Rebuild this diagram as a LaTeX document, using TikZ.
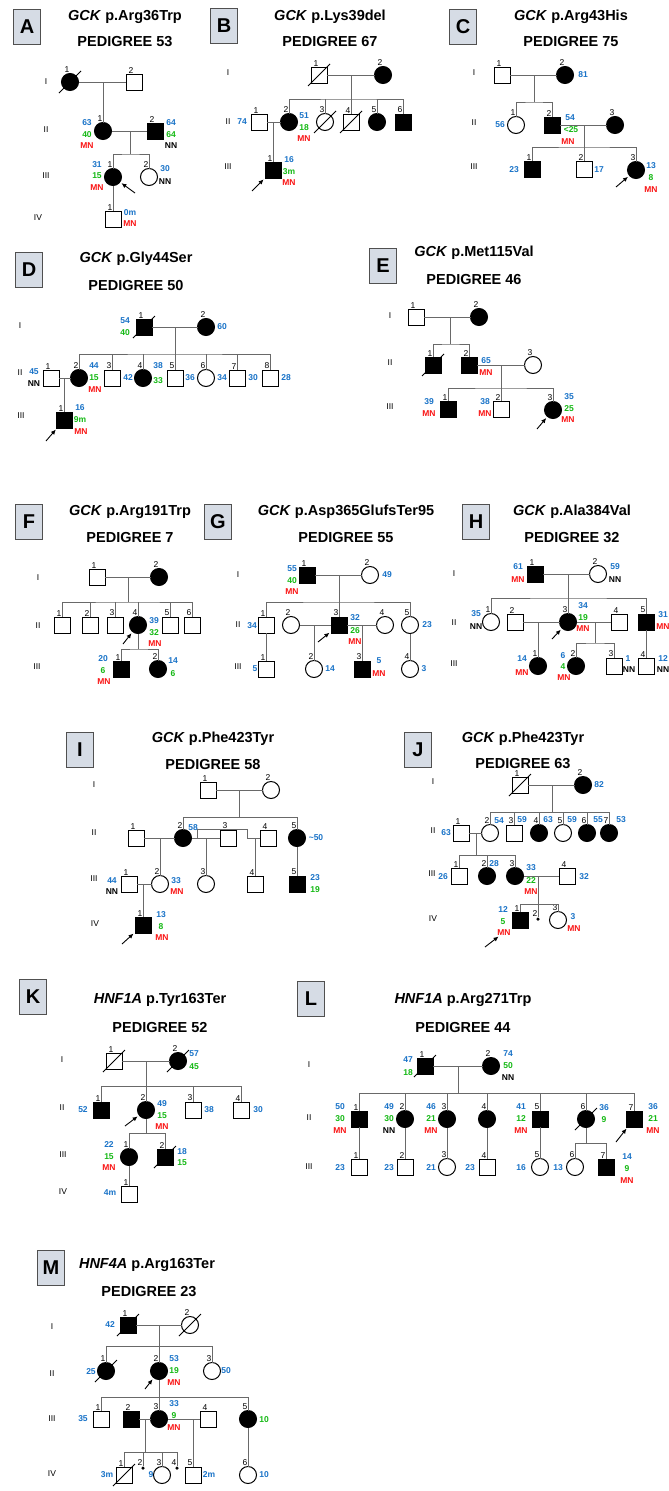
\documentclass[tikz,border=0pt]{standalone}
\usepackage{fontspec}
\setmainfont{Liberation Sans}
\usetikzlibrary{calc,arrows.meta}
\definecolor{lblue}{RGB}{25,115,200}
\definecolor{lgreen}{RGB}{20,185,20}
\definecolor{lred}{RGB}{250,20,20}
\definecolor{linecol}{RGB}{105,105,105}
\definecolor{boxfill}{RGB}{214,220,229}
\definecolor{boxline}{RGB}{80,80,80}
\newcommand{\dcsd}[1]{\draw[decd] ($(#1)+(-11,11)$) -- ($(#1)+(11,-11)$);}

\begin{document}
\begin{tikzpicture}[x=1pt, y=-1pt]
\tikzset{ >=latex,
  ln/.style={draw=linecol, line width=0.9pt},
  sym/.style={draw=black, line width=1pt, inner sep=0pt, outer sep=0pt, fill=white},
  ma/.style={sym, rectangle, minimum size=16pt},
  fe/.style={sym, circle, minimum size=17pt},
  af/.style={fill=black},
  sdot/.style={circle, fill=black, inner sep=0pt, minimum size=3.5pt},
  decd/.style={draw=black, line width=0.8pt},
  numlab/.style={font=\fontsize{8.5}{9}\selectfont, inner sep=0.8pt, xshift=-3pt},
  nm/.style={label distance=1pt, label={[numlab]above:#1}},
  lab/.style={font=\bfseries\fontsize{8.5}{9}\selectfont, inner sep=0pt},
  bl/.style={lab, text=lblue},
  gr/.style={lab, text=lgreen},
  rd/.style={lab, text=lred},
  bk/.style={lab, text=black},
  gen/.style={font=\fontsize{8.5}{9}\selectfont, inner sep=0pt},
  ttl/.style={font=\bfseries\fontsize{14.5}{16}\selectfont, inner sep=0pt},
  panel/.style={draw=boxline, fill=boxfill, line width=0.9pt, minimum width=27pt,
    minimum height=35pt, inner sep=0pt, font=\bfseries\fontsize{20}{22}\selectfont},
  arr/.style={-{Latex[length=5pt,width=4.5pt]}, line width=0.9pt, shorten >=2pt},
}
\useasboundingbox (0,0) rectangle (669,1491);
\fill[white] (0,0) rectangle (669,1491);

%\draw [lightgray, dashed](0,0) grid[step=50] (669,1491);

% ---------------- A
\node[panel] (pA) at (27,27) {A};
\node[ttl] (tA1) at (125,17) {\textit{GCK} p.Arg36Trp};
\node[ttl] (tA2) at (125,42) {PEDIGREE 53};
\node[gen] (gA1) at (46,82) {I};
\node[gen] (gA2) at (46,130) {II};
\node[gen] (gA3) at (46,176) {III};
\node[gen] (gA4) at (38,218) {IV};

\node[fe,af,nm=1] (aI1) at (70,82) {};
\node[ma,nm=2] (aI2) at (134,82) {};
\node[fe,af,nm=1] (aII1) at (103,131) {};
\node[ma,af,nm=2] (aII2) at (155,131) {};
\node[fe,af,nm=1] (aIII1) at (113,177) {};
\node[fe,nm=2] (aIII2) at (149,177) {};
\node[ma,nm=1] (aIV1) at (113,219) {};
\dcsd{aI1}

\coordinate (aM1) at (103,82);
\coordinate (aM2) at (130,131);
\coordinate (aS2) at (130,154);
\coordinate (aP) at (135,193);
\draw[ln] (aI1) -- (aI2);
\draw[ln] (aM1) -- (aII1);
\draw[ln] (aII1) -- (aII2);
\draw[ln] (aM2) -- (aS2);
\draw[ln] (aIII1) |- (aS2) -| (aIII2);
\draw[ln] (aIII1) -- (aIV1);
\draw[arr] (aP) -- (aIII1);

\node[bl] (a1) at (87,123) {63};
\node[gr] (a2) at (87,135) {40};
\node[rd] (a3) at (87,146) {MN};
\node[bl] (a4) at (171,123) {64};
\node[gr] (a5) at (171,135) {64};
\node[bk] (a6) at (171,146) {NN};
\node[bl] (a7) at (97,165) {31};
\node[gr] (a8) at (97,176) {15};
\node[rd] (a9) at (97,188) {MN};
\node[bl] (a10) at (165,169) {30};
\node[bk] (a11) at (165,182) {NN};
\node[bl] (a12) at (130,213) {0m};
\node[rd] (a13) at (130,224) {MN};

% ---------------- B
\node[panel] (pB) at (224,26) {B};
\node[ttl] (tB1) at (330,17) {\textit{GCK} p.Lys39del};
\node[ttl] (tB2) at (330,42) {PEDIGREE 67};
\node[gen] (gB1) at (228,73) {I};
\node[gen] (gB2) at (228,122) {II};
\node[gen] (gB3) at (228,167) {III};

\node[ma,nm=1] (bI1) at (319,75) {};
\node[fe,af,nm=2] (bI2) at (383,75) {};
\node[ma,nm=1] (bII1) at (259,122) {};
\node[fe,af,nm=2] (bII2) at (289,122) {};
\node[fe,nm=3] (bII3) at (325,122) {};
\node[ma,nm=4] (bII4) at (351,122) {};
\node[fe,af,nm=5] (bII5) at (377,122) {};
\node[ma,af,nm=6] (bII6) at (403,122) {};
\node[ma,af,nm=1] (bIII1) at (273,170) {};
\dcsd{bI1} \dcsd{bII3} \dcsd{bII4}

\coordinate (bM1) at (351,75);
\coordinate (bS1) at (351,99);
\coordinate (bM2) at (273,122);
\coordinate (bP) at (252,191);
\draw[ln] (bI1) -- (bI2);
\draw[ln] (bM1) -- (bII4);
\draw[ln] (bII2) |- (bS1) -| (bII6);
\foreach \c in {bII3,bII5} \draw[ln] (\c) -- (\c |- bS1);
\draw[ln] (bII1) -- (bII2);
\draw[ln] (bM2) -- (bIII1);
\draw[arr] (bP) -- (bIII1);

\node[bl] (b1) at (242,122) {74};
\node[bl] (b2) at (304,116) {51};
\node[gr] (b3) at (304,128) {18};
\node[rd] (b4) at (304,139) {MN};
\node[bl] (b5) at (289,160) {16};
\node[gr] (b6) at (289,172) {3m};
\node[rd] (b7) at (289,183) {MN};

% ---------------- C
\node[panel] (pC) at (463,27) {C};
\node[ttl] (tC1) at (571,17) {\textit{GCK} p.Arg43His};
\node[ttl] (tC2) at (571,42) {PEDIGREE 75};
\node[gen] (gC1) at (474,73) {I};
\node[gen] (gC2) at (474,123) {II};
\node[gen] (gC3) at (474,167) {III};

\node[ma,nm=1] (cI1) at (502,75) {};
\node[fe,af,nm=2] (cI2) at (565,75) {};
\node[fe,nm=1] (cII1) at (516,125) {};
\node[ma,af,nm=2] (cII2) at (552,125) {};
\node[fe,af,nm=3] (cII3) at (615,125) {};
\node[ma,af,nm=1] (cIII1) at (532,169) {};
\node[ma,nm=2] (cIII2) at (584,169) {};
\node[fe,af,nm=3] (cIII3) at (636,170) {};

\coordinate (cM1) at (534,75);
\coordinate (cS1) at (534,102);
\coordinate (cM2) at (584,125);
\coordinate (cS2) at (584,147);
\coordinate (cP) at (616,187);
\draw[ln] (cI1) -- (cI2);
\draw[ln] (cM1) -- (cS1);
\draw[ln] (cII1) |- (cS1) -| (cII2);
\draw[ln] (cII2) -- (cII3);
\draw[ln] (cM2) -- (cIII2);
\draw[ln] (cIII1) |- (cS2) -| (cIII3);
\draw[arr] (cP) -- (cIII3);

\node[bl] (c1) at (583,75) {81};
\node[bl] (c2) at (500,125) {56};
\node[bl] (c3) at (570,118) {54};
\node[gr] (c4) at (571,130) {<25};
\node[rd] (c5) at (568,142) {MN};
\node[bl] (c6) at (514,170) {23};
\node[bl] (c7) at (599,170) {17};
\node[bl] (c8) at (651,166) {13};
\node[gr] (c9) at (651,178) {8};
\node[rd] (c10) at (651,190) {MN};

% ---------------- D
\node[panel] (pD) at (29,270) {D};
\node[ttl] (tD1) at (136,259) {\textit{GCK} p.Gly44Ser};
\node[ttl] (tD2) at (136,286) {PEDIGREE 50};
\node[gen] (gD1) at (20,326) {I};
\node[gen] (gD2) at (20,373) {II};
\node[gen] (gD3) at (21,416) {III};

\node[ma,af,nm=1] (dI1) at (144,327) {};
\node[fe,af,nm=2] (dI2) at (206,327) {};
\node[ma,nm=1] (dII1) at (51,378) {};
\node[fe,af,nm=2] (dII2) at (79,378) {};
\node[ma,nm=3] (dII3) at (112,378) {};
\node[fe,af,nm=4] (dII4) at (143,378) {};
\node[ma,nm=5] (dII5) at (175,378) {};
\node[fe,nm=6] (dII6) at (206,378) {};
\node[ma,nm=7] (dII7) at (237,378) {};
\node[ma,nm=8] (dII8) at (270,378) {};
\node[ma,af,nm=1] (dIII1) at (64,420) {};
\dcsd{dI1}

\coordinate (dM1) at (175,327);
\coordinate (dS1) at (175,354);
\coordinate (dM2) at (64,378);
\coordinate (dP) at (46,441);
\draw[ln] (dI1) -- (dI2);
\draw[ln] (dM1) -- (dII5);
\draw[ln] (dII2) |- (dS1) -| (dII8);
\foreach \c in {dII3,dII4,dII6,dII7} \draw[ln] (\c) -- (\c |- dS1);
\draw[ln] (dII1) -- (dII2);
\draw[ln] (dM2) -- (dIII1);
\draw[arr] (dP) -- (dIII1);

\node[bl] (d1) at (125,321) {54};
\node[gr] (d2) at (125,333) {40};
\node[bl] (d3) at (222,327) {60};
\node[bl] (d4) at (34,372) {45};
\node[bk] (d5) at (34,384) {NN};
\node[bl] (d6) at (94,366) {44};
\node[gr] (d7) at (94,378) {15};
\node[rd] (d8) at (95,390) {MN};
\node[bl] (d9) at (128,378) {42};
\node[bl] (d10) at (158,366) {38};
\node[gr] (d11) at (158,381) {33};
\node[bl] (d12) at (190,378) {36};
\node[bl] (d13) at (222,378) {34};
\node[bl] (d14) at (253,378) {30};
\node[bl] (d15) at (286,378) {28};
\node[bl] (d16) at (80,408) {16};
\node[gr] (d17) at (80,420) {9m};
\node[rd] (d18) at (81,432) {MN};

% ---------------- E
\node[panel] (pE) at (383,266) {E};
\node[ttl] (tE1) at (474,253) {\textit{GCK} p.Met115Val};
\node[ttl] (tE2) at (474,280) {PEDIGREE 46};
\node[gen] (gE1) at (390,316) {I};
\node[gen] (gE2) at (390,363) {II};
\node[gen] (gE3) at (390,407) {III};

\node[ma,nm=1] (eI1) at (416,317) {};
\node[fe,af,nm=2] (eI2) at (479,317) {};
\node[ma,af,nm=1] (eII1) at (433,365) {};
\node[ma,af,nm=2] (eII2) at (469,365) {};
\node[fe,nm=3] (eII3) at (533,365) {};
\node[ma,af,nm=1] (eIII1) at (448,409) {};
\node[ma,nm=2] (eIII2) at (501,409) {};
\node[fe,af,nm=3] (eIII3) at (553,410) {};
\dcsd{eII1}

\coordinate (eM1) at (450,317);
\coordinate (eS1) at (450,344);
\coordinate (eM2) at (501,365);
\coordinate (eS2) at (501,388);
\coordinate (eP) at (537,429);
\draw[ln] (eI1) -- (eI2);
\draw[ln] (eM1) -- (eS1);
\draw[ln] (eII1) |- (eS1) -| (eII2);
\draw[ln] (eII2) -- (eII3);
\draw[ln] (eM2) -- (eIII2);
\draw[ln] (eIII1) |- (eS2) -| (eIII3);
\draw[arr] (eP) -- (eIII3);

\node[bl] (e1) at (486,361) {65};
\node[rd] (e2) at (486,373) {MN};
\node[bl] (e3) at (429,402) {39};
\node[rd] (e4) at (429,414) {MN};
\node[bl] (e5) at (485,402) {38};
\node[rd] (e6) at (485,414) {MN};
\node[bl] (e7) at (569,397) {35};
\node[gr] (e8) at (569,409) {25};
\node[rd] (e9) at (568,420) {MN};

% ---------------- F
\node[panel] (pF) at (29,522) {F};
\node[ttl] (tF1) at (130,512) {\textit{GCK} p.Arg191Trp};
\node[ttl] (tF2) at (130,538) {PEDIGREE 7};
\node[gen] (gF1) at (38,578) {I};
\node[gen] (gF2) at (38,626) {II};
\node[gen] (gF3) at (37,667) {III};

\node[ma,nm=1] (fI1) at (97,577) {};
\node[fe,af,nm=2] (fI2) at (159,577) {};
\node[ma,nm=1] (fII1) at (62,625) {};
\node[ma,nm=2] (fII2) at (90,625) {};
\node[ma,nm=3] (fII3) at (115,625) {};
\node[fe,af,nm=4] (fII4) at (138,625) {};
\node[ma,nm=5] (fII5) at (170,625) {};
\node[ma,nm=6] (fII6) at (192,625) {};
\node[ma,af,nm=1] (fIII1) at (121,669) {};
\node[fe,af,nm=2] (fIII2) at (158,669) {};

\coordinate (fM1) at (128,577);
\coordinate (fS1) at (128,602);
\coordinate (fS2) at (138,649);
\coordinate (fP) at (123,644);
\draw[ln] (fI1) -- (fI2);
\draw[ln] (fM1) -- (fS1);
\draw[ln] (fII1) |- (fS1) -| (fII6);
\foreach \c in {fII2,fII3,fII4,fII5} \draw[ln] (\c) -- (\c |- fS1);
\draw[ln] (fII4) -- (fS2);
\draw[ln] (fIII1) |- (fS2) -| (fIII2);
\draw[arr] (fP) -- (fII4);

\node[bl] (f1) at (154,621) {39};
\node[gr] (f2) at (154,633) {32};
\node[rd] (f3) at (155,644) {MN};
\node[bl] (f4) at (103,659) {20};
\node[gr] (f5) at (103,671) {6};
\node[rd] (f6) at (104,682) {MN};
\node[bl] (f7) at (173,661) {14};
\node[gr] (f8) at (173,674) {6};

% ---------------- G
\node[panel] (pG) at (218,522) {G};
\node[ttl] (tG1) at (346,512) {\textit{GCK} p.Asp365GlufsTer95};
\node[ttl] (tG2) at (346,538) {PEDIGREE 55};
\node[gen] (gG1) at (238,575) {I};
\node[gen] (gG2) at (238,625) {II};
\node[gen] (gG3) at (238,667) {III};

\node[ma,af,nm=1] (gI1) at (307,575) {};
\node[fe,nm=2] (gI2) at (370,575) {};
\node[ma,nm=1] (gII1) at (266,625) {};
\node[fe,nm=2] (gII2) at (291,625) {};
\node[ma,af,nm=3] (gII3) at (339,625) {};
\node[fe,nm=4] (gII4) at (385,625) {};
\node[fe,nm=5] (gII5) at (410,625) {};
\node[ma,nm=1] (gIII1) at (266,669) {};
\node[fe,nm=2] (gIII2) at (314,669) {};
\node[ma,af,nm=3] (gIII3) at (362,669) {};
\node[fe,nm=4] (gIII4) at (410,669) {};

\coordinate (gM1) at (339,575);
\coordinate (gS1) at (339,602);
\coordinate (gM2) at (314,625);
\coordinate (gM3) at (362,625);
\coordinate (gP) at (318,642);
\draw[ln] (gI1) -- (gI2);
\draw[ln] (gM1) -- (gII3);
\draw[ln] (gII1) |- (gS1) -| (gII5);
\draw[ln] (gII2) -- (gII3);
\draw[ln] (gII3) -- (gII4);
\draw[ln] (gM2) -- (gIII2);
\draw[ln] (gM3) -- (gIII3);
\draw[ln] (gII1) -- (gIII1);
\draw[ln] (gII5) -- (gIII4);
\draw[arr] (gP) -- (gII3);

\node[bl] (g1) at (292,569) {55};
\node[gr] (g2) at (292,581) {40};
\node[rd] (g3) at (292,592) {MN};
\node[bl] (g4) at (387,575) {49};
\node[bl] (g5) at (252,626) {34};
\node[bl] (g6) at (355,618) {32};
\node[gr] (g7) at (355,631) {26};
\node[rd] (g8) at (355,642) {MN};
\node[bl] (g9) at (427,625) {23};
\node[bl] (g10) at (255,669) {5};
\node[bl] (g11) at (330,669) {14};
\node[bl] (g12) at (379,661) {5};
\node[rd] (g13) at (379,674) {MN};
\node[bl] (g14) at (424,669) {3};

% ---------------- H
\node[panel] (pH) at (476,522) {H};
\node[ttl] (tH1) at (572,512) {\textit{GCK} p.Ala384Val};
\node[ttl] (tH2) at (572,538) {PEDIGREE 32};
\node[gen] (gH1) at (454,574) {I};
\node[gen] (gH2) at (454,623) {II};
\node[gen] (gH3) at (454,664) {III};

\node[ma,af,nm=1] (hI1) at (535,574) {};
\node[fe,nm=2] (hI2) at (598,574) {};
\node[fe,nm=1] (hII1) at (491,622) {};
\node[ma,nm=2] (hII2) at (515,622) {};
\node[fe,af,nm=3] (hII3) at (568,622) {};
\node[ma,nm=4] (hII4) at (619,622) {};
\node[ma,af,nm=5] (hII5) at (646,622) {};
\node[fe,af,nm=1] (hIII1) at (538,666) {};
\node[fe,af,nm=2] (hIII2) at (576,666) {};
\node[ma,nm=3] (hIII3) at (614,666) {};
\node[ma,nm=4] (hIII4) at (646,666) {};

\coordinate (hM1) at (568,574);
\coordinate (hS1) at (568,598);
\coordinate (hM2) at (538,622);
\coordinate (hM3) at (595,622);
\coordinate (hS3) at (595,643);
\coordinate (hP) at (552,639);
\draw[ln] (hI1) -- (hI2);
\draw[ln] (hM1) -- (hII3);
\draw[ln] (hII1) |- (hS1) -| (hII5);
\draw[ln] (hII2) -- (hII3);
\draw[ln] (hII3) -- (hII4);
\draw[ln] (hM2) -- (hIII1);
\draw[ln] (hM3) -- (hS3);
\draw[ln] (hIII2) |- (hS3) -| (hIII3);
\draw[ln] (hII5) -- (hIII4);
\draw[arr] (hP) -- (hII3);

\node[bl] (h1) at (518,567) {61};
\node[rd] (h2) at (518,580) {MN};
\node[bl] (h3) at (615,567) {59};
\node[bk] (h4) at (615,580) {NN};
\node[bl] (h5) at (476,614) {35};
\node[bk] (h6) at (476,627) {NN};
\node[bl] (h7) at (583,606) {34};
\node[gr] (h8) at (583,618) {19};
\node[rd] (h9) at (583,629) {MN};
\node[bl] (h10) at (663,615) {31};
\node[rd] (h11) at (663,627) {MN};
\node[bl] (h12) at (522,659) {14};
\node[rd] (h13) at (522,673) {MN};
\node[bl] (h14) at (563,656) {6};
\node[gr] (h15) at (563,667) {4};
\node[rd] (h16) at (564,678) {MN};
\node[bl] (h17) at (628,659) {1};
\node[bk] (h18) at (629,670) {NN};
\node[bl] (h19) at (663,659) {12};
\node[bk] (h20) at (663,670) {NN};

% ---------------- I
\node[panel] (pI) at (80,750) {I};
\node[ttl] (tI1) at (213,739) {\textit{GCK} p.Phe423Tyr};
\node[ttl] (tI2) at (213,764) {PEDIGREE 58};
\node[gen] (gI1) at (94,785) {I};
\node[gen] (gI2) at (94,833) {II};
\node[gen] (gI3) at (94,879) {III};
\node[gen] (gI4) at (95,924) {IV};

\node[ma,nm=1] (iI1) at (208,790) {};
\node[fe,nm=2] (iI2) at (271,790) {};
\node[ma,nm=1] (iII1) at (136,838) {};
\node[fe,af,nm=2] (iII2) at (183,838) {};
\node[ma,nm=3] (iII3) at (228,838) {};
\node[ma,nm=4] (iII4) at (268,838) {};
\node[fe,af,nm=5] (iII5) at (297,838) {};
\node[ma,nm=1] (iIII1) at (129,884) {};
\node[fe,nm=2] (iIII2) at (160,884) {};
\node[fe,nm=3] (iIII3) at (206,884) {};
\node[ma,nm=4] (iIII4) at (255,884) {};
\node[ma,af,nm=5] (iIII5) at (297,884) {};
\node[ma,af,nm=1] (iIV1) at (143,925) {};

\coordinate (iM1) at (239,790);
\coordinate (iS1) at (239,817);
\coordinate (iM2) at (160,838);
\coordinate (iM3) at (206,838);
\coordinate (iB0) at (197,838);
\coordinate (iB1) at (247,829);
\coordinate (iM4) at (255,838);
\coordinate (iM5) at (143,884);
\coordinate (iP) at (122,944);
\draw[ln] (iI1) -- (iI2);
\draw[ln] (iM1) -- (iS1);
\draw[ln] (iII2) |- (iS1) -| (iII5);
\draw[ln] (iII1) -- (iII2);
\draw[ln] (iII2) -- (iII3);
\draw[ln] (iB0) |- (iB1) |- (iII4);
\draw[ln] (iM2) -- (iIII2);
\draw[ln] (iM3) -- (iIII3);
\draw[ln] (iM4) -- (iIII4);
\draw[ln] (iII5) -- (iIII5);
\draw[ln] (iIII1) -- (iIII2);
\draw[ln] (iM5) -- (iIV1);
\draw[arr] (iP) -- (iIV1);

\node[bl] (i1) at (193,828) {58};
\node[bl] (i2) at (316,838) {\textasciitilde50};
\node[bl] (i3) at (112,881) {44};
\node[bk] (i4) at (112,892) {NN};
\node[bl] (i5) at (176,881) {33};
\node[rd] (i6) at (177,892) {MN};
\node[bl] (i7) at (315,878) {23};
\node[gr] (i8) at (315,890) {19};
\node[bl] (i9) at (161,915) {13};
\node[gr] (i10) at (161,927) {8};
\node[rd] (i11) at (162,938) {MN};

% ---------------- J
\node[panel] (pJ) at (418,750) {J};
\node[ttl] (tJ1) at (523,739) {\textit{GCK} p.Phe423Tyr};
\node[ttl] (tJ2) at (523,764) {PEDIGREE 63};
\node[gen] (gJ1) at (433,782) {I};
\node[gen] (gJ2) at (433,831) {II};
\node[gen] (gJ3) at (432,874) {III};
\node[gen] (gJ4) at (433,919) {IV};

\node[ma,nm=1] (jI1) at (520,785) {};
\node[fe,af,nm=2] (jI2) at (583,785) {};
\node[ma,nm=1] (jII1) at (461,833) {};
\node[fe,nm=2] (jII2) at (490,833) {};
\node[ma,nm=3] (jII3) at (514,833) {};
\node[fe,af,nm=4] (jII4) at (539,833) {};
\node[fe,nm=5] (jII5) at (563,833) {};
\node[fe,af,nm=6] (jII6) at (587,833) {};
\node[fe,af,nm=7] (jII7) at (609,833) {};
\node[ma,nm=1] (jIII1) at (459,876) {};
\node[fe,af,nm=2] (jIII2) at (487,876) {};
\node[fe,af,nm=3] (jIII3) at (515,876) {};
\node[ma,nm=4] (jIII4) at (567,876) {};
\node[ma,af,nm=1] (jIV1) at (520,920) {};
\node[sdot,nm=2] (jIV2) at (538,919) {};
\node[fe,nm=3] (jIV3) at (558,920) {};
\dcsd{jI1}

\coordinate (jM1) at (552,785);
\coordinate (jS1) at (552,812);
\coordinate (jM2) at (476,833);
\coordinate (jS2) at (476,855);
\coordinate (jM3) at (538,876);
\coordinate (jS3) at (538,904);
\coordinate (jP) at (485,947);
\draw[ln] (jI1) -- (jI2);
\draw[ln] (jM1) -- (jS1);
\draw[ln] (jII2) |- (jS1) -| (jII7);
\foreach \c in {jII3,jII4,jII5,jII6} \draw[ln] (\c) -- (\c |- jS1);
\draw[ln] (jII1) -- (jII2);
\draw[ln] (jM2) -- (jS2);
\draw[ln] (jIII1) |- (jS2) -| (jIII3);
\draw[ln] (jIII2) -- (jIII2 |- jS2);
\draw[ln] (jIII3) -- (jIII4);
\draw[ln] (jM3) -- (jS3);
\draw[ln] (jIV1) |- (jS3) -| (jIV3);
\draw[ln] (jS3) -- (jIV2);
\draw[arr, shorten >=17pt] (jP) -- (jIV1);

\node[bl] (j1) at (599,785) {82};
\node[bl] (j2) at (446,833) {63};
\node[bl] (j3) at (499,821) {54};
\node[bl] (j4) at (522,820) {59};
\node[bl] (j5) at (548,820) {63};
\node[bl] (j6) at (572,820) {59};
\node[bl] (j7) at (598,820) {55};
\node[bl] (j8) at (621,820) {53};
\node[bl] (j9) at (443,877) {26};
\node[bl] (j10) at (494,864) {28};
\node[bl] (j11) at (531,868) {33};
\node[gr] (j12) at (531,881) {22};
\node[rd] (j13) at (531,892) {MN};
\node[bl] (j14) at (584,877) {32};
\node[bl] (j15) at (503,910) {12};
\node[gr] (j16) at (503,922) {5};
\node[rd] (j17) at (504,933) {MN};
\node[bl] (j18) at (573,917) {3};
\node[rd] (j19) at (574,929) {MN};

% ---------------- K
\node[panel] (pK) at (33,997) {K};
\node[ttl] (tK1) at (160,1000) {\textit{HNF1A} p.Tyr163Ter};
\node[ttl] (tK2) at (160,1027) {PEDIGREE 52};
\node[gen] (gK1) at (62,1060) {I};
\node[gen] (gK2) at (62,1108) {II};
\node[gen] (gK3) at (63,1155) {III};
\node[gen] (gK4) at (63,1192) {IV};

\node[ma,nm=1] (kI1) at (114,1061) {};
\node[fe,af,nm=2] (kI2) at (178,1061) {};
\node[ma,af,nm=1] (kII1) at (101,1110) {};
\node[fe,af,nm=2] (kII2) at (146,1110) {};
\node[ma,nm=3] (kII3) at (193,1110) {};
\node[ma,nm=4] (kII4) at (241,1110) {};
\node[fe,af,nm=1] (kIII1) at (129,1157) {};
\node[ma,af,nm=2] (kIII2) at (165,1157) {};
\node[ma,nm=1] (kIV1) at (129,1194) {};
\dcsd{kI1} \dcsd{kI2} \dcsd{kIII2}

\coordinate (kM1) at (146,1061);
\coordinate (kS1) at (146,1086);
\coordinate (kS2) at (146,1133);
\coordinate (kP) at (125,1126);
\draw[ln] (kI1) -- (kI2);
\draw[ln] (kM1) -- (kII2);
\draw[ln] (kII1) |- (kS1) -| (kII4);
\draw[ln] (kII3) -- (kII3 |- kS1);
\draw[ln] (kII2) -- (kS2);
\draw[ln] (kIII1) |- (kS2) -| (kIII2);
\draw[ln] (kIII1) -- (kIV1);
\draw[arr] (kP) -- (kII2);

\node[bl] (k1) at (194,1054) {57};
\node[gr] (k2) at (194,1067) {45};
\node[bl] (k3) at (83,1110) {52};
\node[bl] (k4) at (162,1104) {49};
\node[gr] (k5) at (162,1116) {15};
\node[rd] (k6) at (162,1127) {MN};
\node[bl] (k7) at (209,1110) {38};
\node[bl] (k8) at (258,1110) {30};
\node[bl] (k9) at (109,1145) {22};
\node[gr] (k10) at (109,1157) {15};
\node[rd] (k11) at (109,1168) {MN};
\node[bl] (k12) at (182,1152) {18};
\node[gr] (k13) at (182,1163) {15};
\node[bl] (k14) at (110,1193) {4m};

% ---------------- L
\node[panel] (pL) at (311,999) {L};
\node[ttl] (tL1) at (463,1000) {\textit{HNF1A} p.Arg271Trp};
\node[ttl] (tL2) at (463,1027) {PEDIGREE 44};
\node[gen] (gL1) at (309,1065) {I};
\node[gen] (gL2) at (309,1118) {II};
\node[gen] (gL3) at (309,1167) {III};

\node[ma,af,nm=1] (lI1) at (425,1066) {};
\node[fe,af,nm=2] (lI2) at (491,1066) {};
\node[ma,af,nm=1] (lII1) at (359,1119) {};
\node[fe,af,nm=2] (lII2) at (405,1119) {};
\node[fe,af,nm=3] (lII3) at (447,1119) {};
\node[fe,af,nm=4] (lII4) at (487,1119) {};
\node[ma,af,nm=5] (lII5) at (540,1119) {};
\node[fe,af,nm=6] (lII6) at (586,1119) {};
\node[ma,af,nm=7] (lII7) at (634,1119) {};
\node[ma,nm=1] (lIII1) at (359,1167) {};
\node[ma,nm=2] (lIII2) at (405,1167) {};
\node[fe,nm=3] (lIII3) at (447,1167) {};
\node[ma,nm=4] (lIII4) at (487,1167) {};
\node[fe,nm=5] (lIII5) at (540,1167) {};
\node[fe,nm=6] (lIII6) at (575,1167) {};
\node[ma,af,nm=7] (lIII7) at (606,1167) {};
\dcsd{lI1} \dcsd{lII6}

\coordinate (lM1) at (458,1066);
\coordinate (lS1) at (458,1093);
\coordinate (lS2) at (586,1143);
\coordinate (lP) at (616,1142);
\draw[ln] (lI1) -- (lI2);
\draw[ln] (lM1) -- (lS1);
\draw[ln] (lII1) |- (lS1) -| (lII7);
\foreach \c in {lII2,lII3,lII4,lII5,lII6} \draw[ln] (\c) -- (\c |- lS1);
\foreach \c in {1,2,3,4,5} \draw[ln] (lII\c) -- (lIII\c);
\draw[ln] (lII6) -- (lS2);
\draw[ln] (lIII6) |- (lS2) -| (lIII7);
\draw[arr] (lP) -- (lII7);

\node[bl] (l1) at (408,1060) {47};
\node[gr] (l2) at (408,1073) {18};
\node[bl] (l3) at (508,1054) {74};
\node[gr] (l4) at (508,1066) {50};
\node[bk] (l5) at (508,1078) {NN};
\node[bl] (l6) at (340,1107) {50};
\node[gr] (l7) at (340,1119) {30};
\node[rd] (l8) at (340,1131) {MN};
\node[bl] (l9) at (389,1107) {49};
\node[gr] (l10) at (389,1119) {30};
\node[bk] (l11) at (389,1131) {NN};
\node[bl] (l12) at (431,1107) {46};
\node[gr] (l13) at (431,1119) {21};
\node[rd] (l14) at (431,1131) {MN};
\node[bl] (l15) at (521,1107) {41};
\node[gr] (l16) at (521,1119) {12};
\node[rd] (l17) at (521,1131) {MN};
\node[bl] (l18) at (604,1108) {36};
\node[gr] (l19) at (604,1120) {9};
\node[bl] (l20) at (653,1107) {36};
\node[gr] (l21) at (653,1119) {21};
\node[rd] (l22) at (653,1131) {MN};
\node[bl] (l23) at (340,1168) {23};
\node[bl] (l24) at (389,1168) {23};
\node[bl] (l25) at (431,1168) {21};
\node[bl] (l26) at (470,1168) {23};
\node[bl] (l27) at (521,1168) {16};
\node[bl] (l28) at (558,1168) {13};
\node[bl] (l29) at (627,1157) {14};
\node[gr] (l30) at (627,1169) {9};
\node[rd] (l31) at (627,1181) {MN};

% ---------------- M
\node[panel] (pM) at (51,1268) {M};
\node[ttl] (tM1) at (147,1265) {\textit{HNF4A} p.Arg163Ter};
\node[ttl] (tM2) at (149,1292) {PEDIGREE 23};
\node[gen] (gM1) at (52,1327) {I};
\node[gen] (gM2) at (52,1374) {II};
\node[gen] (gM3) at (52,1419) {III};
\node[gen] (gM4) at (52,1474) {IV};

\node[ma,af,nm=1] (mI1) at (128,1325) {};
\node[fe,nm=2] (mI2) at (190,1325) {};
\node[fe,af,nm=1] (mII1) at (106,1371) {};
\node[fe,af,nm=2] (mII2) at (159,1371) {};
\node[fe,nm=3] (mII3) at (212,1371) {};
\node[ma,nm=1] (mIII1) at (101,1419) {};
\node[ma,af,nm=2] (mIII2) at (131,1419) {};
\node[fe,af,nm=3] (mIII3) at (159,1419) {};
\node[ma,nm=4] (mIII4) at (208,1419) {};
\node[fe,af,nm=5] (mIII5) at (248,1419) {};
\node[ma,nm=1] (mIV1) at (124,1475) {};
\node[sdot,nm=2] (mIV2) at (143,1468) {};
\node[fe,nm=3] (mIV3) at (162,1475) {};
\node[sdot,nm=4] (mIV4) at (177,1468) {};
\node[ma,nm=5] (mIV5) at (193,1475) {};
\node[fe,nm=6] (mIV6) at (248,1475) {};
\dcsd{mI1} \dcsd{mI2} \dcsd{mII1} \dcsd{mIV1}

\coordinate (mM1) at (159,1325);
\coordinate (mS1) at (159,1346);
\coordinate (mS2) at (159,1397);
\coordinate (mM2) at (145,1419);
\coordinate (mS3) at (145,1452);
\coordinate (mM3) at (193,1419);
\coordinate (mP) at (145,1389);
\draw[ln] (mI1) -- (mI2);
\draw[ln] (mM1) -- (mII2);
\draw[ln] (mII1) |- (mS1) -| (mII3);
\draw[ln] (mII2) -- (mIII3);
\draw[ln] (mIII1) |- (mS2) -| (mIII5);
\draw[ln] (mIII2) -- (mIII3);
\draw[ln] (mIII3) -- (mIII4);
\draw[ln] (mM2) -- (mS3);
\draw[ln] (mIV1) |- (mS3) -| (mIV4);
\foreach \c in {mIV2,mIV3} \draw[ln] (\c) -- (\c |- mS3);
\draw[ln] (mM3) -- (mIV5);
\draw[ln] (mIII5) -- (mIV6);
\draw[arr] (mP) -- (mII2);

\node[bl] (m1) at (110,1325) {42};
\node[bl] (m2) at (91,1372) {25};
\node[bl] (m3) at (174,1359) {53};
\node[gr] (m4) at (174,1371) {19};
\node[rd] (m5) at (174,1383) {MN};
\node[bl] (m6) at (226,1371) {50};
\node[bl] (m7) at (83,1419) {35};
\node[bl] (m8) at (174,1404) {33};
\node[gr] (m9) at (174,1416) {9};
\node[rd] (m10) at (174,1428) {MN};
\node[gr] (m11) at (264,1420) {10};
\node[bl] (m12) at (107,1475) {3m};
\node[bl] (m13) at (151,1475) {9};
\node[bl] (m14) at (209,1475) {2m};
\node[bl] (m15) at (264,1475) {10};

\end{tikzpicture}
\end{document}
